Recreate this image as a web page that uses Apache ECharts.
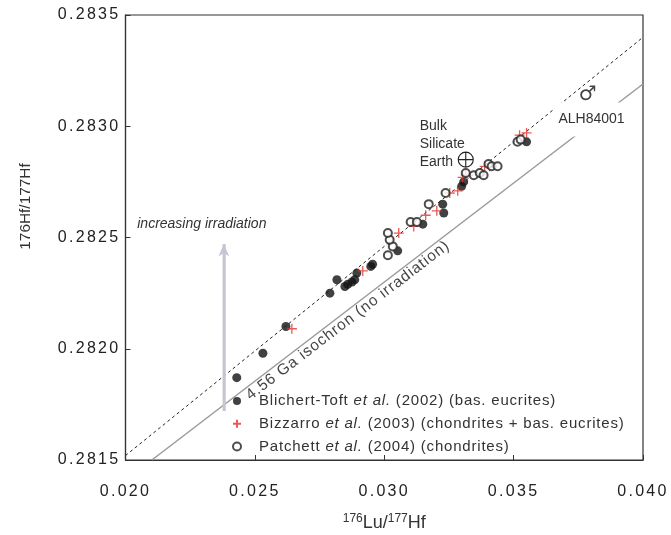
<!DOCTYPE html>
<html>
<head>
<meta charset="utf-8">
<script src="https://cdn.jsdelivr.net/npm/echarts@6/dist/echarts.min.js"></script>
<style>
	html, body { margin: 0; padding: 0; background: #fff; }
	#plot { width: 671px; height: 535px; }
</style>
</head>
<body>
<div id="plot"></div>
<script>
// Lu-Hf data
const blichertToft = [
	[0.02430, 0.28187], [0.02531, 0.28198], [0.02620, 0.28210], [0.02790, 0.28225],
	[0.02817, 0.28231], [0.02848, 0.28228], [0.02859, 0.28229], [0.02875, 0.28230],
	[0.02886, 0.28231], [0.02894, 0.28234], [0.02948, 0.28237], [0.02955, 0.28238],
	[0.03052, 0.28244], [0.03149, 0.28256], [0.03226, 0.28265], [0.03230, 0.28261],
	[0.03299, 0.28273], [0.03307, 0.28275], [0.03550, 0.28293]
];
const bizzarro = [
	[0.02643, 0.28209], [0.02917, 0.28235], [0.03056, 0.28252], [0.03114, 0.28255],
	[0.03160, 0.28260], [0.03203, 0.28262], [0.03253, 0.28270], [0.03284, 0.28271],
	[0.03303, 0.28277], [0.03315, 0.28278], [0.03388, 0.28282], [0.03407, 0.28282],
	[0.03523, 0.28296], [0.03550, 0.28297]
];
const patchett = [
	[0.03014, 0.28242], [0.03033, 0.28246], [0.03021, 0.28249], [0.03014, 0.28252],
	[0.03102, 0.28257], [0.03126, 0.28257], [0.03172, 0.28265], [0.03237, 0.28270],
	[0.03315, 0.28279], [0.03346, 0.28278], [0.03369, 0.28279], [0.03384, 0.28278],
	[0.03403, 0.28283], [0.03415, 0.28282], [0.03438, 0.28282], [0.03515, 0.28293],
	[0.03527, 0.28294]
];
const seriesNames = [
	'Blichert-Toft et al. (2002) (bas. eucrites)',
	'Bizzarro et al. (2003) (chondrites + bas. eucrites)',
	'Patchett et al. (2004) (chondrites)'
];
const refLine = [[0.020, 0.28152], [0.040, 0.28340]];
const isochron = [[0.02102, 0.2815], [0.040, 0.28319]];
const isochronLabelSpan = [[0.0234, 0.281712], [0.0334, 0.282602]];
const irradiationArrow = [[0.02380, 0.28172], [0.02380, 0.28247]];
const bulkEarth = [0.03315, 0.28285];
const mars = [0.03786, 0.28314];

const font = 'Liberation Sans';
const crossPath = 'path://M0,5 L10,5 M5,0 L5,10';
const earthPath = 'path://M0,10 A10,10 0 1,1 20,10 A10,10 0 1,1 0,10 Z M0,10 L20,10 M10,0 L10,20';

// the original figure is typeset with loose letter spacing on ticks and legend
const letterSpacingBySize = { '16px': '2.3px', '15px': '0.8px', '15.5px': '0.9px' };
const ctxProto = CanvasRenderingContext2D.prototype;
['fillText', 'strokeText', 'measureText'].forEach(fn => {
	const orig = ctxProto[fn];
	ctxProto[fn] = function (...args) {
		const m = this.font.match(/(\d+(?:\.\d+)?px)/);
		this.letterSpacing = (m && letterSpacingBySize[m[1]]) || '0px';
		return orig.apply(this, args);
	};
});

function legendLabel(name) {
	const m = name.match(/^(.*?)et al\.(.*)$/);
	return '{n|' + m[1] + '}{i|et al.}{n|' + m[2] + '}';
}

function textPoint(coord, text, style) {
	return {
		coord: coord,
		symbol: 'circle',
		symbolSize: 0,
		label: Object.assign({
			show: true,
			formatter: text,
			fontFamily: font,
			color: '#333'
		}, style)
	};
}

function plot() {
	const chart = echarts.init(document.getElementById('plot'));
	const option = {
		animation: false,
		backgroundColor: '#fff',
		grid: {
			left: 125.5,
			right: 28,
			top: 15,
			bottom: 75,
			outerBoundsMode: 'none',
			show: true,
			borderColor: '#333',
			borderWidth: 1.2
		},
		legend: {
			data: seriesNames,
			orient: 'vertical',
			left: 232,
			top: 393,
			padding: 0,
			itemWidth: 8,
			itemHeight: 8,
			itemGap: 7,
			formatter: legendLabel,
			textStyle: {
				padding: [0, 0, 0, 13],
				rich: {
					n: { fontFamily: font, fontSize: 15, color: '#333' },
					i: { fontFamily: font, fontSize: 15, color: '#333', fontStyle: 'italic' }
				}
			}
		},
		xAxis: {
			type: 'value',
			min: 0.020,
			max: 0.040,
			interval: 0.005,
			name: '{sup|176}{n|Lu/}{sup|177}{n|Hf}',
			nameLocation: 'middle',
			nameGap: 53,
			nameTextStyle: {
				rich: {
					n: { fontFamily: font, fontSize: 18, color: '#333' },
					sup: { fontFamily: font, fontSize: 12, color: '#333', verticalAlign: 'top', padding: [0, 0, 8, 0] }
				}
			},
			axisLine: { lineStyle: { color: '#333', width: 1.2 } },
			axisTick: { inside: true, length: 5, lineStyle: { color: '#333' } },
			axisLabel: {
				margin: 22,
				fontFamily: font,
				fontSize: 16,
				color: '#222',
				formatter: v => v.toFixed(3)
			},
			splitLine: { show: false }
		},
		yAxis: {
			type: 'value',
			min: 0.2815,
			max: 0.2835,
			interval: 0.0005,
			name: '176Hf/177Hf',
			nameLocation: 'middle',
			nameGap: 92,
			nameTextStyle: {
				fontFamily: font,
				fontSize: 15.4,
				color: '#333',
				padding: [0, 0, 0, 62]
			},
			axisLine: { lineStyle: { color: '#333', width: 1.2 } },
			axisTick: { inside: true, length: 5, lineStyle: { color: '#333' } },
			axisLabel: {
				margin: 5,
				fontFamily: font,
				fontSize: 16,
				color: '#222',
				formatter: v => v.toFixed(4)
			},
			splitLine: { show: false }
		},
		series: [
			{
				name: 'isochron',
				type: 'line',
				data: isochron,
				showSymbol: false,
				silent: true,
				z: 1,
				lineStyle: { color: '#9a9a9a', width: 1.5 },
				markLine: {
					silent: true,
					symbol: ['none', 'none'],
					lineStyle: { width: 0, color: 'rgba(0,0,0,0)' },
					label: {
						show: true,
						position: 'insideMiddleBottom',
						formatter: '4.56 Ga isochron (no irradiation)',
						fontFamily: font,
						fontSize: 15.5,
						color: '#444',
						distance: 0
					},
					data: [[{ coord: isochronLabelSpan[0] }, { coord: isochronLabelSpan[1] }]]
				}
			},
			{
				name: 'reference',
				type: 'line',
				data: refLine,
				showSymbol: false,
				silent: true,
				z: 1,
				lineStyle: { color: '#222', width: 1, type: [3, 3] }
			},
			{
				name: 'arrow',
				type: 'line',
				data: irradiationArrow,
				showSymbol: false,
				silent: true,
				z: 1,
				lineStyle: { color: '#c4c7d3', width: 2.5 },
				markLine: {
					silent: true,
					symbol: ['none', 'arrow'],
					symbolSize: [8, 12],
					lineStyle: { color: '#c4c7d3', width: 2.5, type: 'solid' },
					label: { show: false },
					data: [[{ coord: irradiationArrow[0] }, { coord: irradiationArrow[1] }]]
				}
			},
			{
				name: seriesNames[0],
				type: 'scatter',
				data: blichertToft,
				symbol: 'circle',
				symbolSize: 9,
				itemStyle: { color: '#111' },
				z: 3
			},
			{
				name: seriesNames[1],
				type: 'scatter',
				data: bizzarro,
				symbol: crossPath,
				symbolSize: 10,
				itemStyle: { color: 'transparent', borderColor: '#e0322c', borderWidth: 1.3 },
				z: 4
			},
			{
				name: seriesNames[2],
				type: 'scatter',
				data: patchett,
				symbol: 'emptyCircle',
				symbolSize: 8,
				itemStyle: { color: '#222', borderColor: '#222', borderWidth: 1.2 },
				z: 5
			},
			{
				name: 'annotations',
				type: 'scatter',
				data: [],
				silent: true,
				z: 6,
				markPoint: {
					silent: true,
					data: [
						textPoint([0.02295, 0.28256], 'increasing irradiation', {
							fontSize: 14, fontStyle: 'italic', position: 'inside'
						}),
						textPoint([0.03137, 0.28292], 'Bulk\nSilicate\nEarth', {
							fontSize: 14, position: 'right', distance: 0, align: 'left', lineHeight: 18
						}),
						textPoint([0.03801, 0.28303], 'ALH84001', {
							fontSize: 14, position: 'inside', backgroundColor: '#fff', padding: [10, 4]
						}),
						textPoint(mars, '\u2642', {
							fontSize: 20, position: 'inside', fontFamily: 'DejaVu Sans', color: '#444'
						}),
						{
							coord: bulkEarth,
							symbol: earthPath,
							symbolSize: 15,
							itemStyle: { color: 'transparent', borderColor: '#222', borderWidth: 1.1 },
							label: { show: false }
						}
					]
				}
			}
		]
	};
	chart.setOption(option);
	window.addEventListener('resize', () => chart.resize());
}

window.addEventListener('load', plot);
</script>
</body>
</html>
